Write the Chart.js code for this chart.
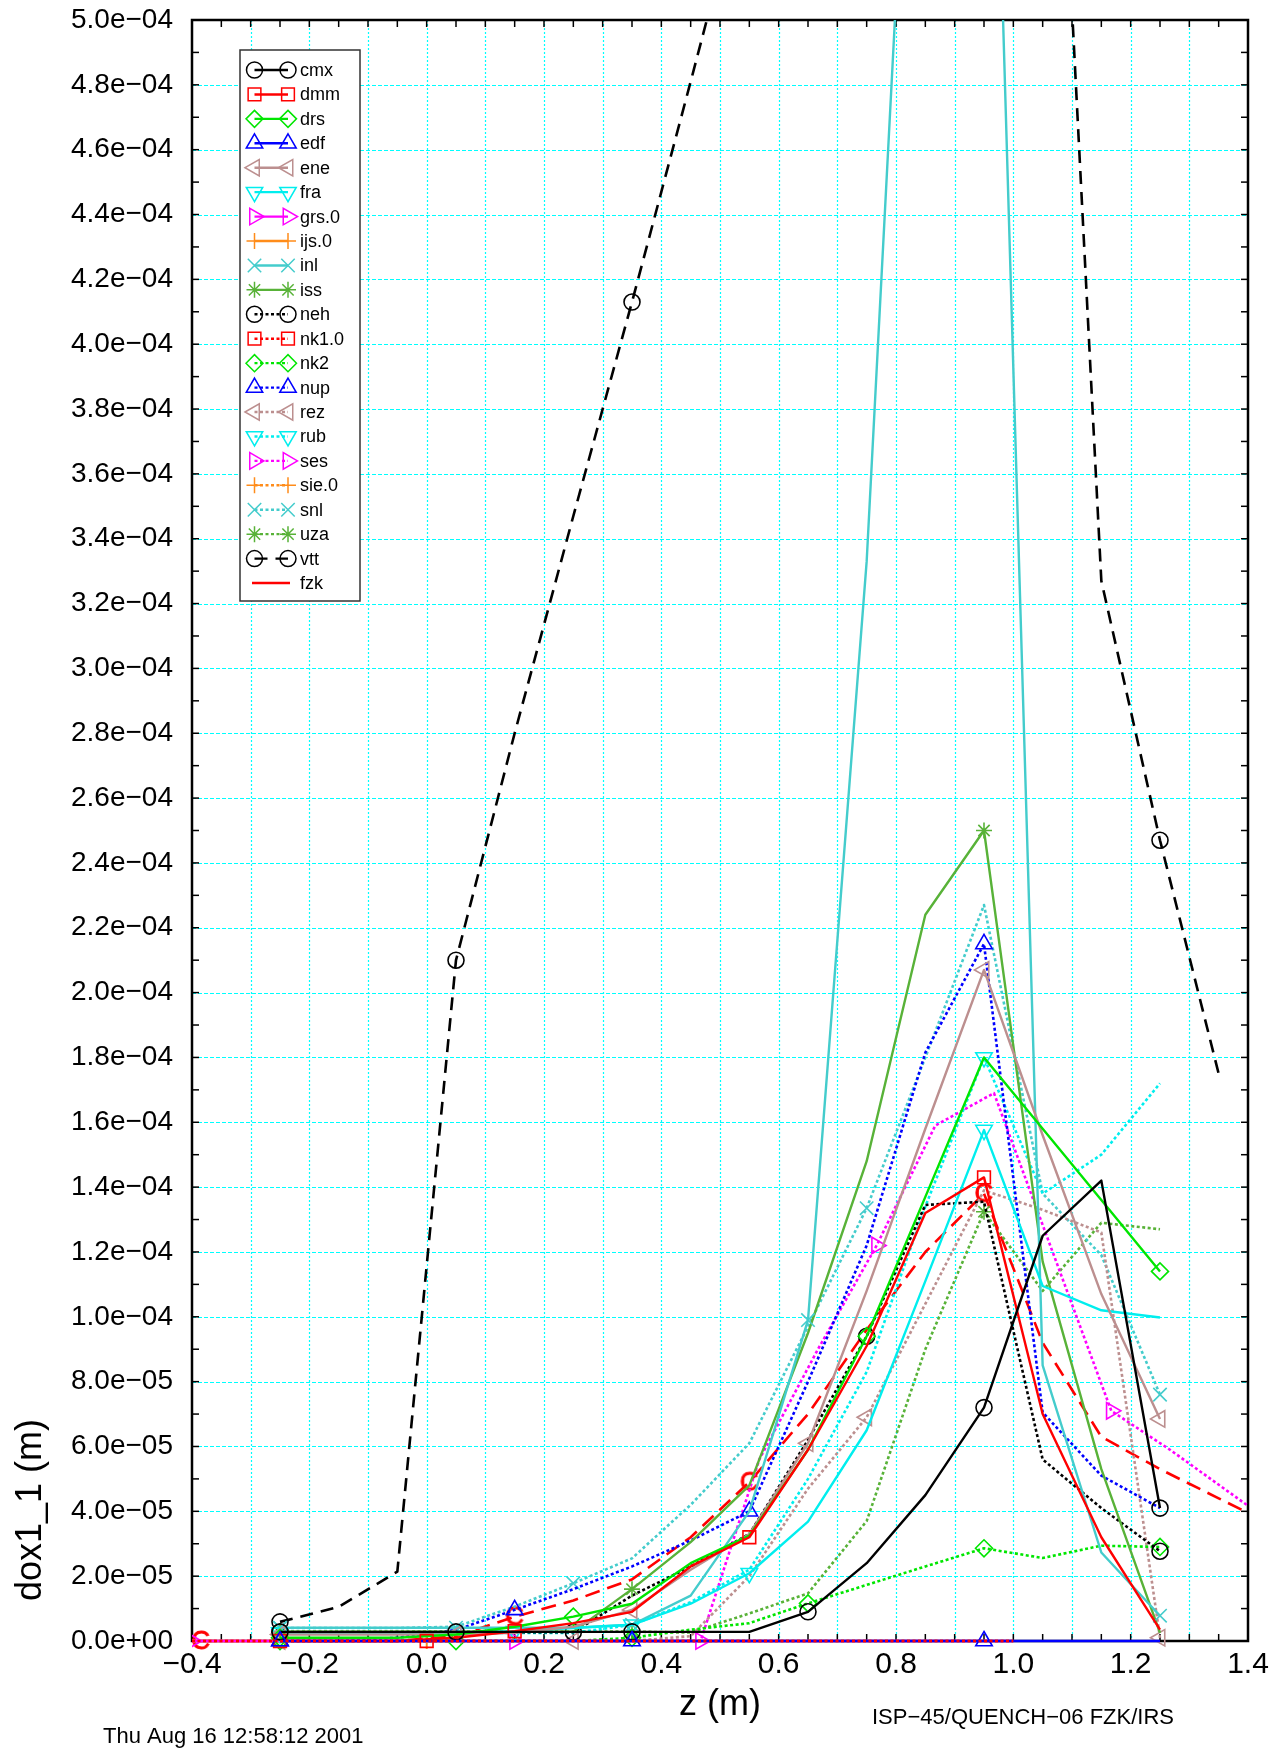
<!DOCTYPE html>
<html lang="en">
<head>
<meta charset="utf-8">
<title>dox1_1 along z</title>
<script src="https://cdn.jsdelivr.net/npm/chart.js@4/dist/chart.umd.min.js"></script>
<style>
  html, body { margin: 0; padding: 0; background: #ffffff; }
  canvas { display: block; }
</style>
</head>
<body>
<canvas id="chart" width="1283" height="1753"></canvas>
<script>
// Axial positions (m) of the common code mesh
const Z = [-0.25, -0.15, -0.05, 0.05, 0.15, 0.25, 0.35, 0.45, 0.55, 0.65, 0.75, 0.85, 0.95, 1.05, 1.15, 1.25];
// Meshes of the contributions reported on their own nodes
const Z_VTT = [-0.25, -0.15, -0.05, 0.05, 0.15, 0.25, 0.35, 0.45, 0.55, 0.65, 0.75, 0.85, 0.95, 1.05, 1.15, 1.25, 1.35];
const Z_FZK = [-0.385, -0.25, -0.15, -0.05, 0.05, 0.15, 0.25, 0.35, 0.45, 0.55, 0.65, 0.75, 0.85, 0.95, 1.05, 1.15, 1.25, 1.35, 1.45];
const Z_SES = [-0.4, 0.15, 0.467, 0.567, 0.667, 0.767, 0.867, 0.967, 1.067, 1.167, 1.267, 1.367, 1.467];
const Z_NULL = [-0.4, -0.2, 0.0, 0.2, 0.4, 0.6, 0.8, 1.0];

// Oxide layer thickness dox1_1 (m) per participant
const cmx  = [2.8e-6, 2.8e-6, 2.8e-6, 2.8e-6, 2.8e-6, 2.8e-6, 2.8e-6, 2.8e-6, 2.8e-6, 9.0e-6, 2.4e-5, 4.5e-5, 7.2e-5, 1.25e-4, 1.42e-4, 4.1e-5];
const dmm  = [0, 0, 0, 1.0e-6, 3.0e-6, 5.5e-6, 9.0e-6, 2.3e-5, 3.2e-5, 5.9e-5, 9.1e-5, 1.32e-4, 1.43e-4, 7.0e-5, 3.2e-5, 3.5e-6];
const drs  = [1.0e-6, 1.0e-6, 1.0e-6, 2.0e-6, 4.4e-6, 7.5e-6, 1.15e-5, 2.4e-5, 3.25e-5, 5.9e-5, 9.4e-5, 1.37e-4, 1.8e-4, 1.58e-4, 1.36e-4, 1.14e-4];
const edf  = [0, 0, 0, 0, 0, 0, 0, 0, 0, 0, 0, 0, 0, 0, 0, 0];
const ene  = [2.0e-6, 2.0e-6, 2.0e-6, 2.0e-6, 2.5e-6, 4.4e-6, 9.6e-6, 2.2e-5, 3.3e-5, 6.1e-5, 1.08e-4, 1.58e-4, 2.07e-4, 1.56e-4, 1.07e-4, 6.85e-5];
const fra  = [2.5e-6, 2.5e-6, 2.5e-6, 2.5e-6, 3.0e-6, 4.0e-6, 5.0e-6, 1.15e-5, 2.09e-5, 3.68e-5, 6.5e-5, 1.11e-4, 1.576e-4, 1.095e-4, 1.02e-4, 9.98e-5];
const grs0 = [0, 0, 0, 0, 0, 0, 0, 0];
const ijs0 = [0, 0, 0, 0, 0, 0, 0, 0];
const inl  = [4.1e-6, 4.1e-6, 4.1e-6, 4.1e-6, 4.1e-6, 4.1e-6, 5.0e-6, 1.4e-5, 4.0e-5, 9.9e-5, 3.33e-4, 6.8e-4, 7.0e-4, 8.5e-5, 2.73e-5, 7.8e-6];
const iss  = [2.9e-6, 2.9e-6, 2.9e-6, 2.9e-6, 2.9e-6, 2.9e-6, 1.6e-5, 3.05e-5, 4.8e-5, 9.5e-5, 1.48e-4, 2.24e-4, 2.5e-4, 1.17e-4, 5.3e-5, 2.5e-6];
const neh  = [2.7e-6, 2.7e-6, 2.7e-6, 2.7e-6, 2.7e-6, 2.7e-6, 1.4e-5, 2.3e-5, 3.3e-5, 6.2e-5, 9.4e-5, 1.345e-4, 1.355e-4, 5.6e-5, 4.1e-5, 2.77e-5];
const nk10 = [0, 0, 0, 0, 0, 0, 0, 0];
const nk2  = [0, 0, 0, 0, 0, 0, 1.0e-6, 3.5e-6, 5.5e-6, 1.16e-5, 1.73e-5, 2.3e-5, 2.86e-5, 2.56e-5, 2.94e-5, 2.9e-5];
const nup  = [0, 0, 1.0e-6, 3.4e-6, 9.6e-6, 1.6e-5, 2.3e-5, 3.1e-5, 4.0e-5, 8.0e-5, 1.22e-4, 1.815e-4, 2.15e-4, 7.05e-5, 5.1e-5, 4.1e-5];
const rez  = [0, 0, 0, 0, 0, 0, 0, 1.5e-6, 2.0e-5, 4.7e-5, 6.9e-5, 1.04e-4, 1.39e-4, 1.33e-4, 1.26e-4, 1.0e-6];
const rub  = [2.5e-6, 2.5e-6, 2.5e-6, 2.5e-6, 2.5e-6, 2.5e-6, 5.0e-6, 1.2e-5, 2.2e-5, 5.0e-5, 8.3e-5, 1.34e-4, 1.8e-4, 1.38e-4, 1.5e-4, 1.72e-4];
const ses  = [0, 0, 0, 5.6e-5, 9.0e-5, 1.22e-4, 1.59e-4, 1.69e-4, 1.2e-4, 7.1e-5, 5.9e-5, 4.6e-5, 3.3e-5];
const sie0 = [0, 0, 0, 0, 0, 0, 0, 0];
const snl  = [4.0e-6, 4.0e-6, 4.0e-6, 4.4e-6, 1.06e-5, 1.78e-5, 2.55e-5, 4.2e-5, 6.1e-5, 9.7e-5, 1.335e-4, 1.8e-4, 2.27e-4, 1.38e-4, 1.19e-4, 7.6e-5];
const uza  = [2.9e-6, 2.9e-6, 2.9e-6, 2.9e-6, 2.9e-6, 2.9e-6, 2.9e-6, 2.6e-6, 8.5e-6, 1.47e-5, 3.7e-5, 9.0e-5, 1.324e-4, 1.08e-4, 1.29e-4, 1.27e-4];
const vtt  = [5.9e-6, 1.05e-5, 2.14e-5, 2.1e-4, 2.8e-4, 3.47e-4, 4.13e-4, 4.81e-4, 5.5e-4, 6.1e-4, 6.6e-4, 7.0e-4, 7.1e-4, 6.8e-4, 3.27e-4, 2.47e-4, 1.75e-4];
const fzk  = [0, 0, 0, 0, 1.5e-6, 7.5e-6, 1.25e-5, 1.9e-5, 3.2e-5, 4.9e-5, 7.0e-5, 9.6e-5, 1.2e-4, 1.38e-4, 9.2e-5, 6.3e-5, 5.3e-5, 4.4e-5, 3.5e-5];

// Tick labels
const X_TICK_LABELS = ['\u22120.4', '\u22120.2', '0.0', '0.2', '0.4', '0.6', '0.8', '1.0', '1.2', '1.4'];
const Y_TICK_LABELS = ['0.0e+00', '2.0e\u221205', '4.0e\u221205', '6.0e\u221205', '8.0e\u221205',
  '1.0e\u221204', '1.2e\u221204', '1.4e\u221204', '1.6e\u221204', '1.8e\u221204', '2.0e\u221204',
  '2.2e\u221204', '2.4e\u221204', '2.6e\u221204', '2.8e\u221204', '3.0e\u221204', '3.2e\u221204',
  '3.4e\u221204', '3.6e\u221204', '3.8e\u221204', '4.0e\u221204', '4.2e\u221204', '4.4e\u221204',
  '4.6e\u221204', '4.8e\u221204', '5.0e\u221204'];

const FONT = '"Liberation Sans", Arial, Helvetica, sans-serif';
const DOT = [3, 2.5];

// Letter used as the marker of the fzk curve
function letterMarker(ch, color) {
  const c = document.createElement('canvas');
  c.width = 26; c.height = 28;
  const g = c.getContext('2d');
  g.fillStyle = color;
  g.font = '26px ' + FONT;
  g.textAlign = 'center';
  g.textBaseline = 'middle';
  g.fillText(ch, 13, 15);
  g.strokeStyle = color;
  g.lineWidth = 0.8;
  g.strokeText(ch, 13, 15);
  return c;
}

const MARKER = {
  circle:   { pointStyle: 'circle',   radius: 8,   rotation: 0 },
  square:   { pointStyle: 'rect',     radius: 9,   rotation: 0 },
  diamond:  { pointStyle: 'rectRot',  radius: 8.5, rotation: 0 },
  triUp:    { pointStyle: 'triangle', radius: 9.5, rotation: 0 },
  triLeft:  { pointStyle: 'triangle', radius: 9.5, rotation: -90 },
  triDown:  { pointStyle: 'triangle', radius: 9.5, rotation: 180 },
  triRight: { pointStyle: 'triangle', radius: 9.5, rotation: 90 },
  plus:     { pointStyle: 'cross',    radius: 8,   rotation: 0 },
  ex:       { pointStyle: 'crossRot', radius: 9.5, rotation: 0 },
  star:     { pointStyle: 'star',     radius: 8,   rotation: 0 },
  letterC:  { pointStyle: letterMarker('C', '#ff0000'), radius: 10, rotation: 0 }
};

// order: lower values are painted later (on top)
const SERIES = [
  { label: 'cmx',   z: Z,      v: cmx,  color: '#000000', dash: [],      marker: 'circle',   marks: [-0.25, 0.05, 0.35, 0.65, 0.95, 1.25] },
  { label: 'dmm',   z: Z,      v: dmm,  color: '#ff0000', dash: [],      marker: 'square',   marks: [-0.25, 0.15, 0.55, 0.95] },
  { label: 'drs',   z: Z,      v: drs,  color: '#00e600', dash: [],      marker: 'diamond',  marks: [-0.25, 0.25, 0.75, 1.25] },
  { label: 'edf',   z: Z,      v: edf,  color: '#0000ff', dash: [],      marker: 'triUp',    marks: [-0.25, 0.35, 0.95], order: -1 },
  { label: 'ene',   z: Z,      v: ene,  color: '#bc8f8f', dash: [],      marker: 'triLeft',  marks: [-0.25, 0.05, 0.35, 0.65, 0.95, 1.25] },
  { label: 'fra',   z: Z,      v: fra,  color: '#00eeee', dash: [],      marker: 'triDown',  marks: [-0.25, 0.15, 0.55, 0.95] },
  { label: 'grs.0', z: Z_NULL, v: grs0, color: '#ff00ff', dash: [],      marker: 'triRight', marks: [-0.4] },
  { label: 'ijs.0', z: Z_NULL, v: ijs0, color: '#ff8c1a', dash: [],      marker: 'plus',     marks: [0.0] },
  { label: 'inl',   z: Z,      v: inl,  color: '#44cccc', dash: [],      marker: 'ex',       marks: [-0.25, 0.05, 0.35, 0.65, 0.95, 1.25] },
  { label: 'iss',   z: Z,      v: iss,  color: '#58b238', dash: [],      marker: 'star',     marks: [-0.25, 0.35, 0.95] },
  { label: 'neh',   z: Z,      v: neh,  color: '#000000', dash: DOT,     marker: 'circle',   marks: [-0.25, 0.25, 0.75, 1.25] },
  { label: 'nk1.0', z: Z_NULL, v: nk10, color: '#ff0000', dash: DOT,     marker: 'square',   marks: [0.0], order: -2 },
  { label: 'nk2',   z: Z,      v: nk2,  color: '#00e600', dash: DOT,     marker: 'diamond',  marks: [-0.25, 0.05, 0.35, 0.65, 0.95, 1.25] },
  { label: 'nup',   z: Z,      v: nup,  color: '#0000ff', dash: DOT,     marker: 'triUp',    marks: [-0.25, 0.15, 0.55, 0.95] },
  { label: 'rez',   z: Z,      v: rez,  color: '#bc8f8f', dash: DOT,     marker: 'triLeft',  marks: [-0.25, 0.25, 0.75, 1.25] },
  { label: 'rub',   z: Z,      v: rub,  color: '#00eeee', dash: DOT,     marker: 'triDown',  marks: [-0.25, 0.35, 0.95] },
  { label: 'ses',   z: Z_SES,  v: ses,  color: '#ff00ff', dash: DOT,     marker: 'triRight', marks: [0.15, 0.467, 0.767, 1.167] },
  { label: 'sie.0', z: Z_NULL, v: sie0, color: '#ff8c1a', dash: DOT,     marker: 'plus',     marks: [0.0] },
  { label: 'snl',   z: Z,      v: snl,  color: '#44cccc', dash: DOT,     marker: 'ex',       marks: [-0.25, 0.25, 0.75, 1.25] },
  { label: 'uza',   z: Z,      v: uza,  color: '#58b238', dash: DOT,     marker: 'star',     marks: [-0.25, 0.35, 0.95] },
  { label: 'vtt',   z: Z_VTT,  v: vtt,  color: '#000000', dash: [13, 8], marker: 'circle',   marks: [-0.25, 0.05, 0.35, 0.65, 0.95, 1.25] },
  { label: 'fzk',   z: Z_FZK,  v: fzk,  color: '#ff0000', dash: [15, 8], marker: 'letterC',  marks: [-0.385, 0.15, 0.55, 0.95], keyPlain: true }
];

const zKey = z => Math.round(z * 1000);

function nearStep(v, step) {
  return Math.abs(v / step - Math.round(v / step)) < 1e-6;
}

function drawMarker(ctx, s, x, y) {
  const mk = MARKER[s.marker];
  ctx.save();
  ctx.setLineDash([]);
  ctx.strokeStyle = s.color;
  ctx.fillStyle = 'rgba(0,0,0,0)';
  ctx.lineWidth = 1.5;
  if (Chart.helpers && Chart.helpers.drawPoint) {
    Chart.helpers.drawPoint(ctx, { pointStyle: mk.pointStyle, rotation: mk.rotation, radius: mk.radius, borderWidth: 1.5 }, x, y);
  } else {
    ctx.beginPath(); ctx.arc(x, y, mk.radius, 0, Math.PI * 2); ctx.stroke();
  }
  ctx.restore();
}

// Grid, inward ticks and frame of the plotting area
const plotFrame = {
  id: 'plotFrame',
  beforeDatasetsDraw(chart) {
    const { ctx, chartArea: a, scales: { x, y } } = chart;
    const seg = (x1, y1, x2, y2) => { ctx.beginPath(); ctx.moveTo(x1, y1); ctx.lineTo(x2, y2); ctx.stroke(); };
    ctx.save();
    ctx.strokeStyle = '#00ffff';
    ctx.lineWidth = 1.2;
    ctx.setLineDash([2, 2]);
    x.ticks.forEach(t => {
      if (!nearStep(t.value, 0.1)) return;
      const px = Math.round(x.getPixelForValue(t.value)) + 0.5;
      if (px <= a.left + 2 || px >= a.right - 2) return;
      seg(px, a.top, px, a.bottom);
    });
    ctx.setLineDash([4, 2]);
    y.ticks.forEach(t => {
      if (!nearStep(t.value, 2e-5)) return;
      const py = Math.round(y.getPixelForValue(t.value)) + 0.5;
      if (py <= a.top + 2 || py >= a.bottom - 2) return;
      seg(a.left, py, a.right, py);
    });
    ctx.setLineDash([]);
    ctx.strokeStyle = '#000000';
    ctx.lineWidth = 1.5;
    x.ticks.forEach(t => {
      const px = x.getPixelForValue(t.value);
      seg(px, a.bottom, px, a.bottom - 7);
      seg(px, a.top, px, a.top + 7);
    });
    y.ticks.forEach(t => {
      const py = y.getPixelForValue(t.value);
      seg(a.left, py, a.left + 7, py);
      seg(a.right, py, a.right - 7, py);
    });
    ctx.lineWidth = 2.5;
    ctx.strokeRect(a.left, a.top, a.right - a.left, a.bottom - a.top);
    ctx.restore();
  }
};

// Boxed key in the upper left corner of the plot
const seriesKey = {
  id: 'seriesKey',
  afterDatasetsDraw(chart) {
    const { ctx, chartArea: a } = chart;
    const left = a.left + 48, top = a.top + 30, width = 120, height = 551;
    ctx.save();
    ctx.fillStyle = '#ffffff';
    ctx.fillRect(left, top, width, height);
    ctx.strokeStyle = '#333333';
    ctx.lineWidth = 1.5;
    ctx.strokeRect(left, top, width, height);
    ctx.font = '18px ' + FONT;
    ctx.textBaseline = 'middle';
    ctx.textAlign = 'left';
    chart.data.datasets.forEach((ds, i) => {
      const s = SERIES[i];
      const yRow = top + 20 + i * 24.43;
      const x1 = left + 14.5, x2 = left + 48;
      ctx.strokeStyle = s.color;
      ctx.lineWidth = 2.4;
      ctx.setLineDash(s.keyPlain ? [] : s.dash);
      ctx.beginPath();
      ctx.moveTo(s.keyPlain ? left + 12 : x1, yRow);
      ctx.lineTo(s.keyPlain ? left + 50 : x2, yRow);
      ctx.stroke();
      ctx.setLineDash([]);
      if (!s.keyPlain) {
        drawMarker(ctx, s, x1, yRow);
        drawMarker(ctx, s, x2, yRow);
      }
      ctx.fillStyle = '#000000';
      ctx.fillText(ds.label, left + 60, yRow + 1);
    });
    ctx.restore();
  }
};

// Vertical axis title and the run stamps under the plot
const captions = {
  id: 'captions',
  afterDraw(chart) {
    const { ctx, chartArea: a } = chart;
    ctx.save();
    ctx.fillStyle = '#000000';
    ctx.font = '36px ' + FONT;
    ctx.translate(a.left - 161, a.bottom - 131);
    ctx.rotate(-Math.PI / 2);
    ctx.textAlign = 'center';
    ctx.textBaseline = 'middle';
    ctx.fillText('dox1_1 (m)', 0, 0);
    ctx.restore();

    ctx.save();
    ctx.fillStyle = '#000000';
    ctx.font = '22px ' + FONT;
    ctx.textAlign = 'left';
    ctx.textBaseline = 'alphabetic';
    ctx.fillText('ISP\u221245/QUENCH\u221206 FZK/IRS', 872, 1724);
    ctx.fillText('Thu Aug 16 12:58:12 2001', 103, 1743);
    ctx.restore();
  }
};

Chart.defaults.color = '#000000';
Chart.defaults.font.family = FONT;

new Chart(document.getElementById('chart'), {
  type: 'line',
  data: {
    datasets: SERIES.map(s => {
      const mk = MARKER[s.marker];
      const marked = new Set(s.marks.map(zKey));
      return {
        label: s.label,
        order: s.order || 0,
        data: s.z.map((z, i) => ({ x: z, y: s.v[i] })),
        borderColor: s.color,
        borderWidth: s.dash.length ? 2.6 : 2.4,
        borderDash: s.dash,
        borderJoinStyle: 'round',
        fill: false,
        tension: 0,
        pointStyle: mk.pointStyle,
        pointRotation: mk.rotation,
        pointRadius: ctx => (ctx.dataIndex !== undefined && marked.has(zKey(s.z[ctx.dataIndex]))) ? mk.radius : 0,
        pointBorderColor: s.color,
        pointBackgroundColor: 'rgba(0,0,0,0)',
        pointBorderWidth: 1.6,
        clip: { left: 0, top: 0, right: 0, bottom: 14 }
      };
    })
  },
  options: {
    responsive: false,
    animation: false,
    events: [],
    layout: { padding: { top: 20, right: 35, bottom: 0, left: 0 } },
    plugins: { legend: { display: false }, tooltip: { enabled: false } },
    scales: {
      x: {
        type: 'linear',
        min: -0.4,
        max: 1.4,
        grid: { display: false, drawTicks: false },
        border: { display: false },
        ticks: {
          stepSize: 0.05,
          autoSkip: false,
          maxRotation: 0,
          minRotation: 0,
          padding: 6,
          color: '#000000',
          font: { family: FONT, size: 30 },
          callback: v => {
            const k = Math.round((v + 0.4) / 0.2 * 1000) / 1000;
            return Number.isInteger(k) ? X_TICK_LABELS[k] : '';
          }
        },
        title: { display: true, text: 'z (m)', color: '#000000', font: { family: FONT, size: 36 }, padding: { top: 0, bottom: 26 } },
        afterFit: scale => { scale.height = 112; scale.paddingLeft = 0; scale.paddingRight = 0; }
      },
      y: {
        type: 'linear',
        min: 0,
        max: 5e-4,
        grid: { display: false, drawTicks: false },
        border: { display: false },
        ticks: {
          stepSize: 1e-5,
          autoSkip: false,
          padding: 19,
          color: '#000000',
          font: { family: FONT, size: 28 },
          callback: v => {
            const k = Math.round(v / 2e-5 * 1000) / 1000;
            return Number.isInteger(k) ? Y_TICK_LABELS[k] : '';
          }
        },
        afterFit: scale => { scale.width = 192; scale.paddingTop = 0; scale.paddingBottom = 0; }
      }
    }
  },
  plugins: [plotFrame, seriesKey, captions]
});
</script>
</body>
</html>
